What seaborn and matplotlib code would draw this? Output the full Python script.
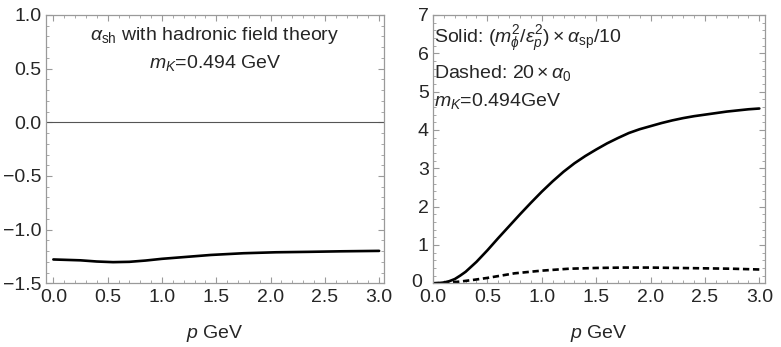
import numpy as np
import pandas as pd
import seaborn as sns
import matplotlib
matplotlib.use('Agg')
import matplotlib.pyplot as plt
from matplotlib.ticker import MultipleLocator
from matplotlib.transforms import ScaledTranslation

# Left panel: alpha_sh vs p
p_left = [0.0, 0.25, 0.4, 0.55, 0.7, 0.85, 1.0, 1.15, 1.3, 1.45, 1.75, 2.05,
          2.35, 2.65, 3.0]
alpha_sh = [-1.278, -1.286, -1.297, -1.303, -1.300, -1.288, -1.272, -1.260,
            -1.248, -1.236, -1.220, -1.211, -1.207, -1.202, -1.198]

# Right panel, solid curve: (m_phi^2/eps_p^2) * alpha_sp / 10
p_solid = [0.0, 0.05, 0.1, 0.15, 0.2, 0.25, 0.3, 0.4, 0.5, 0.6, 0.7, 0.8, 0.9,
           1.0, 1.1, 1.2, 1.3, 1.4, 1.5, 1.6, 1.7, 1.8, 1.9, 2.0, 2.1, 2.2,
           2.3, 2.4, 2.5, 2.6, 2.7, 2.8, 2.9, 3.0]
alpha_sp = [0.0, 0.005, 0.02, 0.055, 0.11, 0.2, 0.30, 0.56, 0.86, 1.18, 1.49,
            1.80, 2.10, 2.39, 2.66, 2.91, 3.13, 3.32, 3.49, 3.65, 3.79, 3.92,
            4.02, 4.10, 4.18, 4.25, 4.31, 4.36, 4.40, 4.44, 4.48, 4.51, 4.54,
            4.56]

# Right panel, dashed curve: 20 * alpha_0
p_dashed = [0.0, 0.125, 0.25, 0.375, 0.5, 0.75, 1.0, 1.25, 1.5, 1.75, 2.0,
            2.25, 2.5, 2.75, 3.0]
alpha_0 = [0.0, 0.012, 0.045, 0.09, 0.14, 0.26, 0.33, 0.38, 0.40, 0.41, 0.41,
           0.40, 0.39, 0.38, 0.36]

sns.set_style('ticks')
plt.rcParams['font.family'] = ['Liberation Sans', 'DejaVu Sans']
plt.rcParams['mathtext.fontset'] = 'custom'
plt.rcParams['mathtext.rm'] = 'Liberation Sans'
plt.rcParams['mathtext.it'] = 'Liberation Sans:italic'
plt.rcParams['mathtext.bf'] = 'Liberation Sans:bold'

frame_col = '#9a9a9a'
fs_text = 14
fs_tick = 14

fig = plt.figure(figsize=(7.81, 3.47), dpi=100)
ax1 = fig.add_axes([0.0583, 0.1836, 0.4334, 0.7732])
ax2 = fig.add_axes([0.5544, 0.1836, 0.4251, 0.7732])

sns.lineplot(x=p_left, y=alpha_sh, ax=ax1, color='black', lw=1.9)
ax1.axhline(0, color='#555555', lw=0.8, zorder=1)
ax1.set_xlim(-0.072, 3.045)
ax1.set_ylim(-1.5, 1.0)
ax1.xaxis.set_major_locator(MultipleLocator(0.5))
ax1.xaxis.set_minor_locator(MultipleLocator(0.1))
ax1.yaxis.set_major_locator(MultipleLocator(0.5))
ax1.yaxis.set_minor_locator(MultipleLocator(0.1))
ax1.text(0.5, 0.925, r'$\alpha_{\rm sh}$ with hadronic field theory',
         transform=ax1.transAxes, ha='center', va='center', fontsize=fs_text)
ax1.text(0.5, 0.82, r'$m_K$=0.494 GeV',
         transform=ax1.transAxes, ha='center', va='center', fontsize=fs_text)

sns.lineplot(x=p_solid, y=alpha_sp, ax=ax2, color='black', lw=1.9)
sns.lineplot(x=p_dashed, y=alpha_0, ax=ax2, color='black', lw=1.9,
             linestyle=(0, (2.4, 1.4)))
ax2.set_xlim(0, 3.052)
ax2.set_ylim(0, 7)
ax2.xaxis.set_major_locator(MultipleLocator(0.5))
ax2.xaxis.set_minor_locator(MultipleLocator(0.1))
ax2.yaxis.set_major_locator(MultipleLocator(1))
ax2.yaxis.set_minor_locator(MultipleLocator(0.2))
ax2.text(0.003, 0.912, r'Solid: $(m_\phi^2/\varepsilon_p^2)\times\alpha_{\rm sp}/10$',
         transform=ax2.transAxes, ha='left', va='center', fontsize=fs_text)
ax2.text(0.003, 0.785, r'Dashed: $20\times\alpha_0$',
         transform=ax2.transAxes, ha='left', va='center', fontsize=fs_text)
ax2.text(0.003, 0.68, r'$m_K$=0.494GeV',
         transform=ax2.transAxes, ha='left', va='center', fontsize=fs_text)

for ax in (ax1, ax2):
    ax.set_xlabel(r'$p$ GeV', fontsize=fs_text, labelpad=12)
    ax.set_ylabel('')
    for s in ax.spines.values():
        s.set_visible(True)
        s.set_color(frame_col)
        s.set_linewidth(0.9)
    ax.tick_params(which='both', direction='in', top=True, right=True,
                   color=frame_col, labelsize=fs_tick)
    ax.tick_params(axis='x', pad=4)
    ax.tick_params(axis='y', pad=3)
    ax.tick_params(which='major', length=4, width=0.8)
    ax.tick_params(which='minor', length=2.2, width=0.6)

# nudge the "0" on the right panel's y axis left and up so it clears "0.0"
fig.canvas.draw()
for t in ax2.yaxis.get_major_ticks():
    if t.label1.get_text() == '0':
        t.label1.set_transform(t.label1.get_transform() +
                               ScaledTranslation(-5 / 72, 2 / 72,
                                                 fig.dpi_scale_trans))

fig.savefig('out.png', dpi=100)
